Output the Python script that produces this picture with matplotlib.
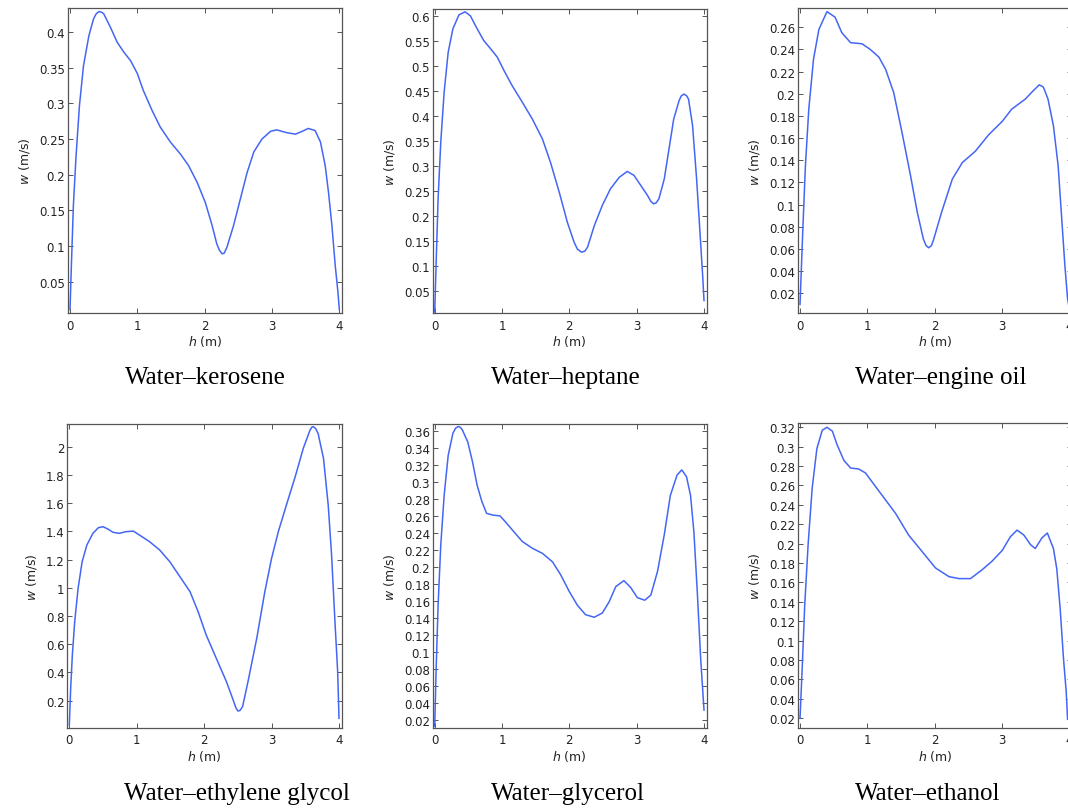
import matplotlib
matplotlib.use("Agg")
import matplotlib.pyplot as plt
import numpy as np


# Velocity profiles w(h)
kerosene_h = [0.0, 0.02, 0.05, 0.09, 0.14, 0.2, 0.28, 0.35, 0.39, 0.43, 0.47,
              0.5, 0.6, 0.7, 0.8, 0.9, 1.0, 1.09, 1.22, 1.34, 1.49, 1.64, 1.76,
              1.89, 2.01, 2.11, 2.18, 2.22, 2.26, 2.29, 2.33, 2.43, 2.53, 2.63,
              2.73, 2.85, 2.98, 3.07, 3.22, 3.35, 3.45, 3.54, 3.64, 3.72, 3.79,
              3.84, 3.89, 3.94, 3.98, 4.0]
kerosene_w = [0.011, 0.072, 0.157, 0.227, 0.297, 0.353, 0.395, 0.419, 0.426,
              0.429, 0.428, 0.426, 0.407, 0.386, 0.372, 0.360, 0.342, 0.318,
              0.290, 0.267, 0.246, 0.229, 0.213, 0.189, 0.161, 0.129, 0.103,
              0.094, 0.089, 0.090, 0.098, 0.129, 0.166, 0.203, 0.232, 0.250,
              0.261, 0.263, 0.259, 0.257, 0.261, 0.265, 0.262, 0.246, 0.213,
              0.175, 0.129, 0.072, 0.035, 0.011]

heptane_h = [0.0, 0.02, 0.05, 0.09, 0.14, 0.2, 0.27, 0.36, 0.45, 0.53, 0.63,
             0.73, 0.83, 0.93, 1.03, 1.15, 1.3, 1.45, 1.6, 1.72, 1.85, 1.97,
             2.07, 2.12, 2.18, 2.23, 2.27, 2.37, 2.49, 2.61, 2.74, 2.86, 2.96,
             3.06, 3.16, 3.21, 3.25, 3.29, 3.33, 3.41, 3.48, 3.55, 3.63, 3.66,
             3.7, 3.74, 3.77, 3.83, 3.89, 3.94, 3.98, 4.0]
heptane_w = [0.007, 0.1, 0.234, 0.348, 0.448, 0.528, 0.575, 0.603, 0.609,
             0.601, 0.575, 0.551, 0.535, 0.518, 0.491, 0.461, 0.428, 0.394,
             0.354, 0.307, 0.247, 0.187, 0.147, 0.133, 0.127, 0.129, 0.137,
             0.180, 0.221, 0.254, 0.277, 0.289, 0.281, 0.261, 0.241, 0.229,
             0.224, 0.226, 0.234, 0.274, 0.334, 0.394, 0.431, 0.440, 0.444,
             0.441, 0.434, 0.381, 0.274, 0.167, 0.080, 0.030]

engine_oil_h = [0.0, 0.04, 0.08, 0.13, 0.2, 0.28, 0.4, 0.52, 0.62, 0.75, 0.92,
                1.04, 1.17, 1.27, 1.39, 1.51, 1.64, 1.74, 1.83, 1.87, 1.91,
                1.95, 1.98, 2.1, 2.26, 2.41, 2.6, 2.8, 3.0, 3.14, 3.34, 3.45,
                3.55, 3.61, 3.68, 3.76, 3.83, 3.88, 3.93, 3.97, 4.0]
engine_oil_w = [0.010, 0.075, 0.135, 0.186, 0.231, 0.258, 0.274, 0.269, 0.255,
                0.246, 0.245, 0.240, 0.233, 0.222, 0.201, 0.166, 0.126, 0.093,
                0.069, 0.063, 0.061, 0.063, 0.068, 0.093, 0.123, 0.138, 0.148,
                0.163, 0.175, 0.186, 0.195, 0.202, 0.208, 0.206, 0.195, 0.171,
                0.135, 0.090, 0.045, 0.015, 0.005]

glycol_h = [0.0, 0.02, 0.045, 0.08, 0.13, 0.19, 0.26, 0.35, 0.43, 0.5, 0.57,
            0.65, 0.74, 0.84, 0.95, 1.04, 1.19, 1.34, 1.49, 1.64, 1.79, 1.91,
            2.03, 2.18, 2.33, 2.43, 2.47, 2.5, 2.53, 2.57, 2.65, 2.78, 2.9,
            3.0, 3.1, 3.22, 3.35, 3.47, 3.57, 3.6, 3.62, 3.655, 3.69, 3.77,
            3.84, 3.89, 3.94, 3.98, 4.0]
glycol_w = [0.028, 0.288, 0.524, 0.76, 0.996, 1.185, 1.303, 1.386, 1.426,
            1.433, 1.417, 1.393, 1.386, 1.398, 1.402, 1.374, 1.327, 1.268,
            1.185, 1.079, 0.973, 0.831, 0.666, 0.5, 0.335, 0.205, 0.150, 0.127,
            0.130, 0.158, 0.335, 0.642, 0.973, 1.209, 1.398, 1.587, 1.787,
            1.988, 2.118, 2.140, 2.142, 2.128, 2.094, 1.917, 1.587, 1.232,
            0.76, 0.406, 0.075]

glycerol_h = [0.0, 0.02, 0.05, 0.09, 0.14, 0.2, 0.27, 0.31, 0.35, 0.38, 0.41,
              0.49, 0.56, 0.63, 0.7, 0.77, 0.86, 0.97, 1.05, 1.18, 1.3, 1.45,
              1.6, 1.75, 1.87, 2.0, 2.12, 2.24, 2.37, 2.49, 2.59, 2.69, 2.81,
              2.91, 3.01, 3.12, 3.21, 3.31, 3.41, 3.5, 3.6, 3.67, 3.74, 3.8,
              3.85, 3.9, 3.95, 4.0]
glycerol_w = [0.013, 0.077, 0.155, 0.226, 0.284, 0.331, 0.357, 0.363, 0.365,
              0.364, 0.361, 0.347, 0.324, 0.296, 0.277, 0.263, 0.261, 0.260,
              0.253, 0.241, 0.230, 0.222, 0.216, 0.206, 0.191, 0.171, 0.155,
              0.144, 0.141, 0.146, 0.159, 0.177, 0.184, 0.176, 0.164, 0.161,
              0.167, 0.195, 0.238, 0.284, 0.308, 0.314, 0.306, 0.284, 0.241,
              0.171, 0.093, 0.032]

ethanol_h = [0.0, 0.03, 0.07, 0.12, 0.18, 0.25, 0.33, 0.4, 0.48, 0.55, 0.65,
             0.75, 0.87, 0.97, 1.12, 1.27, 1.42, 1.61, 1.81, 2.01, 2.21, 2.36,
             2.53, 2.7, 2.85, 3.0, 3.12, 3.22, 3.32, 3.42, 3.49, 3.59, 3.67,
             3.76, 3.81, 3.86, 3.91, 3.95, 3.97]
ethanol_w = [0.020, 0.068, 0.137, 0.199, 0.257, 0.298, 0.317, 0.320, 0.316,
             0.302, 0.286, 0.278, 0.277, 0.273, 0.259, 0.245, 0.231, 0.209,
             0.192, 0.175, 0.166, 0.164, 0.164, 0.173, 0.182, 0.193, 0.207,
             0.214, 0.209, 0.199, 0.195, 0.206, 0.211, 0.195, 0.174, 0.133,
             0.081, 0.047, 0.019]

# Tick values
kerosene_yticks = [0.05, 0.1, 0.15, 0.2, 0.25, 0.3, 0.35, 0.4]
heptane_yticks = [0.05, 0.1, 0.15, 0.2, 0.25, 0.3, 0.35, 0.4, 0.45, 0.5,
                  0.55, 0.6]
engine_oil_yticks = [0.02, 0.04, 0.06, 0.08, 0.1, 0.12, 0.14, 0.16, 0.18,
                     0.2, 0.22, 0.24, 0.26]
glycol_yticks = [0.2, 0.4, 0.6, 0.8, 1, 1.2, 1.4, 1.6, 1.8, 2]
glycerol_yticks = [0.02, 0.04, 0.06, 0.08, 0.1, 0.12, 0.14, 0.16, 0.18, 0.2,
                   0.22, 0.24, 0.26, 0.28, 0.3, 0.32, 0.34, 0.36]
ethanol_yticks = [0.02, 0.04, 0.06, 0.08, 0.1, 0.12, 0.14, 0.16, 0.18, 0.2,
                  0.22, 0.24, 0.26, 0.28, 0.3, 0.32]
h_ticks = [0, 1, 2, 3, 4]

captions = ["Water\u2013kerosene", "Water\u2013heptane", "Water\u2013engine oil",
            "Water\u2013ethylene glycol", "Water\u2013glycerol",
            "Water\u2013ethanol"]


W, H = 1068, 812
fig = plt.figure(figsize=(W / 100, H / 100), dpi=100)

line_color = "#4466f5"
frame_color = "#555555"

# (left, top, right, bottom) in pixels, ylim, data, ticks, caption centre
panels = [
    ((68, 9, 342, 314), (0.006, 0.434), kerosene_h, kerosene_w,
     kerosene_yticks, (205, 378)),
    ((432.7, 10, 706.7, 314), (0.005, 0.6147), heptane_h, heptane_w,
     heptane_yticks, (566, 378)),
    ((798, 9.3, 1072.3, 314), (0.0022, 0.277), engine_oil_h, engine_oil_w,
     engine_oil_yticks, (941, 378)),
    ((67.3, 425, 341.7, 728.7), (0.0085, 2.161), glycol_h, glycol_w,
     glycol_yticks, (237, 794)),
    ((432.7, 425, 706.7, 728.7), (0.0113, 0.3679), glycerol_h, glycerol_w,
     glycerol_yticks, (568, 794)),
    ((798, 424.3, 1072.3, 728.7), (0.0103, 0.3241), ethanol_h, ethanol_w,
     ethanol_yticks, (928, 794)),
]

for i, (box, ylim, hs, ws, yticks, cap_pos) in enumerate(panels):
    left, top, right, bottom = box
    ax = fig.add_axes([left / W, 1 - bottom / H,
                       (right - left) / W, (bottom - top) / H])

    ax.plot(hs, ws, color=line_color, linewidth=1.1,
            solid_joinstyle="round")

    ax.set_xlim(-0.03, 4.04)
    ax.set_ylim(*ylim)
    ax.set_xticks(h_ticks)
    ax.set_xticklabels([str(t) for t in h_ticks])
    ax.set_yticks(yticks)
    ax.set_yticklabels(["{:g}".format(t) for t in yticks])

    ax.tick_params(direction="in", length=3.5, width=0.7,
                   top=True, right=True, color=frame_color,
                   labelsize=8.5, labelcolor="#222222")
    ax.tick_params(axis="x", pad=4)
    ax.tick_params(axis="y", pad=2)
    for spine in ax.spines.values():
        spine.set_color(frame_color)
        spine.set_linewidth(0.9)

    ax.set_xlabel("$h$ (m)", fontsize=9, labelpad=1, color="#222222")
    ax.set_ylabel("$w$ (m/s)", fontsize=9, labelpad=5, color="#222222")

    fig.text(cap_pos[0] / W, 1 - cap_pos[1] / H, captions[i],
             ha="center", va="center", fontsize=18,
             family="Liberation Serif", color="black")

fig.savefig("out.png", dpi=100)
plt.close(fig)
